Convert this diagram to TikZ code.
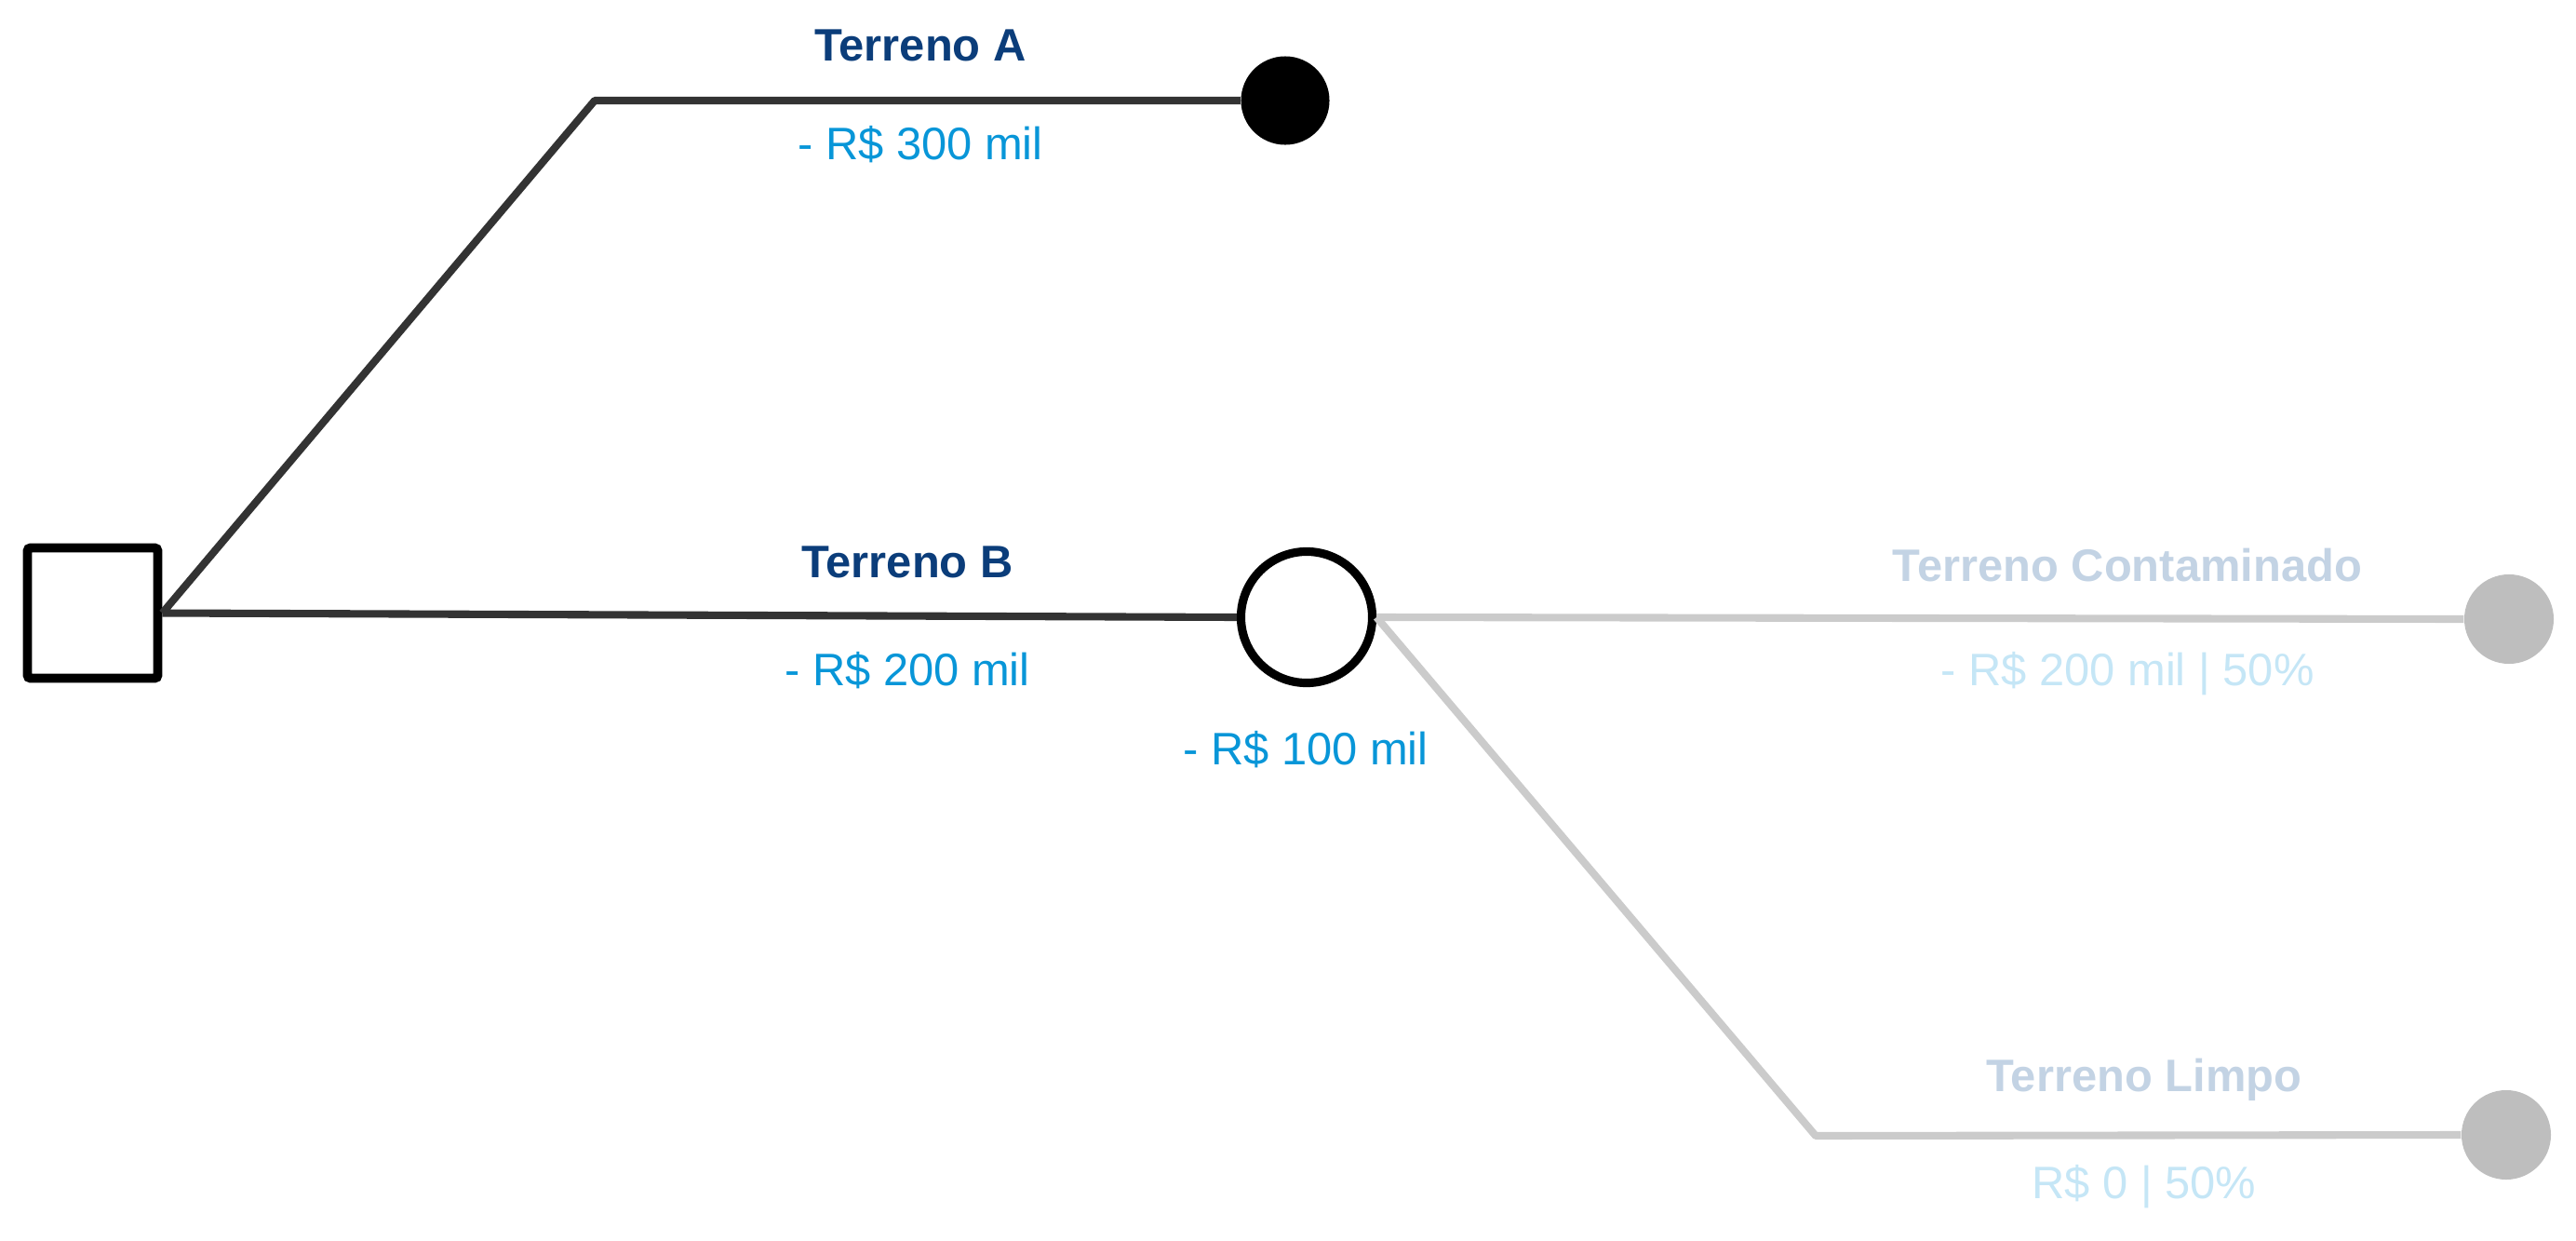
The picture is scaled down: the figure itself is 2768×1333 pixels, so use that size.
\documentclass[tikz,border=0pt]{standalone}
\usepackage{fontspec}
\setmainfont{Liberation Sans}
\usepackage{tikz}

\definecolor{ramo}{HTML}{333333}
\definecolor{titulo}{HTML}{0B3D7A}
\definecolor{valor}{HTML}{0896D8}
\definecolor{ramoclaro}{HTML}{CBCBCB}
\definecolor{fimclaro}{HTML}{BEBEBE}
\definecolor{tituloclaro}{HTML}{C3D3E4}
\definecolor{valorclaro}{HTML}{C5E6F6}

\begin{document}
\begin{tikzpicture}[x=0.01cm, y=-0.01cm,
	txt/.style={font=\fontsize{13.9}{16}\selectfont, inner sep=0pt},
	tit/.style={txt, font=\fontsize{13.9}{16}\selectfont\bfseries, text=titulo},
	val/.style={txt, text=valor},
	titclaro/.style={tit, text=tituloclaro},
	valclaro/.style={val, text=valorclaro},
	linha/.style={draw=ramo, line width=2.3pt},
	linhaclara/.style={draw=ramoclaro, line width=2.3pt},
	fim/.style={circle, fill=black, minimum size=0.95cm, inner sep=0pt},
	fimcinza/.style={circle, fill=fimclaro, minimum size=0.96cm, inner sep=0pt}]
	\useasboundingbox (0,0) rectangle (2768,1333);
	% decisao e evento
	\node[draw=black, line width=2.8pt, rounded corners=1pt, minimum size=1.4cm, inner sep=0pt] (decisao) at (99.5,658.5) {};
	\node[draw=black, line width=2.6pt, circle, minimum size=1.41cm, inner sep=0pt] (acaso) at (1404,663) {};
	% pontas
	\node[fim] (fimA) at (1381,108) {};
	\node[fimcinza] (fimC) at (2696,665) {};
	\node[fimcinza] (fimL) at (2693,1219) {};
	\coordinate (dobraA) at (639,108);
	\coordinate (dobraL) at (1951,1220);
	% ramos
	\draw[linha, line join=round] (decisao.east) -- (dobraA) -- (fimA.west);
	\draw[linha] (decisao.east) -- (acaso.west);
	\draw[linhaclara] (acaso.east) -- (fimC.west);
	\draw[linhaclara, line join=round] (acaso.east) -- (dobraL) -- (fimL.west);
	% textos
	\node[tit] (tA) at (989,49) {Terreno A};
	\node[val] (vA) at (989,155) {- R\$ 300 mil};
	\node[tit] (tB) at (975,604) {Terreno B};
	\node[val] (vB) at (975,720) {- R\$ 200 mil};
	\node[val] (vAcaso) at (1403,805) {- R\$ 100 mil};
	\node[titclaro] (tC) at (2286,607) {Terreno Contaminado};
	\node[valclaro] (vC) at (2286,724) {- R\$ 200 mil | 50\%};
	\node[titclaro] (tL) at (2304,1160) {Terreno Limpo};
	\node[valclaro] (vL) at (2304,1275) {R\$ 0 | 50\%};
\end{tikzpicture}
\end{document}
